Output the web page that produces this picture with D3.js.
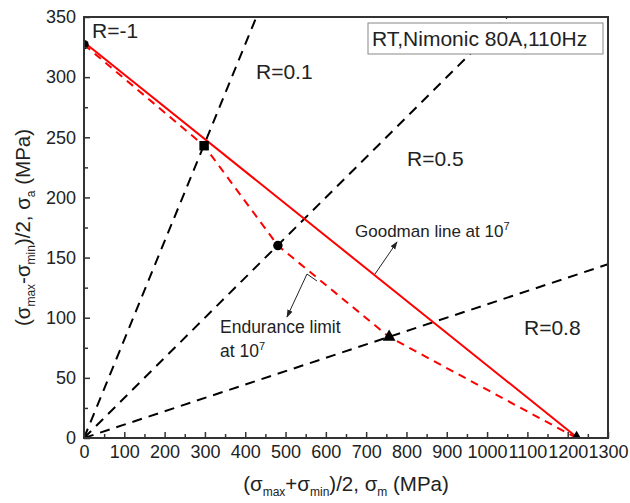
<!DOCTYPE html>
<html>
<head>
<meta charset="utf-8">
<script src="https://cdn.jsdelivr.net/npm/d3@7"></script>
<style>
  html, body { margin: 0; padding: 0; background: #fff; }
  svg { display: block; font-family: Arial, "Liberation Sans", sans-serif; }
</style>
</head>
<body>
<svg id="chart" width="630" height="503"></svg>
<script>
// ---- data ----
const xTicks = [0, 100, 200, 300, 400, 500, 600, 700, 800, 900, 1000, 1100, 1200, 1300];
const yTicks = [0, 50, 100, 150, 200, 250, 300, 350];
const rRatios = [0.1, 0.5, 0.8];                 // dashed load-ratio lines from origin
const rLabels = ["R=-1", "R=0.1", "R=0.5", "R=0.8"];
const goodmanSm = [0, 1225];
const goodmanSa = [329, 0];
const enduranceSm = [0, 298, 481, 757, 1222];
const enduranceSa = [327, 243, 160, 84, 0];
const markerSm = [0, 298, 481, 757, 1222, 0];
const markerSa = [327, 243, 160, 84, 0, 0];
const markerShape = ["circle", "square", "circle", "triangle", "triangle", "triangle"];
const legendText = "RT,Nimonic 80A,110Hz";

// ---- layout ----
const svg = d3.select("#chart");
const L = 84, R = 608, T = 17, B = 438;
const x = d3.scaleLinear().domain([0, 1300]).range([L, R]);
const y = d3.scaleLinear().domain([0, 350]).range([B, T]);

svg.append("defs").append("clipPath").attr("id", "clip")
  .append("rect").attr("x", L).attr("y", T).attr("width", R - L).attr("height", B - T);

const plot = svg.append("g").attr("clip-path", "url(#clip)");

// R lines: sigma_a = sigma_m * (1-R)/(1+R)
rRatios.forEach(r => {
  const k = (1 - r) / (1 + r);
  const smEnd = Math.min(1300, 350 / k);
  plot.append("line")
    .attr("x1", x(0)).attr("y1", y(0))
    .attr("x2", x(smEnd)).attr("y2", y(smEnd * k))
    .attr("stroke", "#000").attr("stroke-width", 2)
    .attr("stroke-dasharray", "10,7");
});

// Goodman line
const line = d3.line().x(d => x(d[0])).y(d => y(d[1]));
plot.append("path")
  .attr("d", line(goodmanSm.map((v, i) => [v, goodmanSa[i]])))
  .attr("fill", "none").attr("stroke", "#ff0000").attr("stroke-width", 2);

// Endurance limit (dashed)
plot.append("path")
  .attr("d", line(enduranceSm.map((v, i) => [v, enduranceSa[i]])))
  .attr("fill", "none").attr("stroke", "#ff0000").attr("stroke-width", 2)
  .attr("stroke-dasharray", "8,6");

// markers
const sym = { circle: d3.symbolCircle, square: d3.symbolSquare, triangle: d3.symbolTriangle };
markerSm.forEach((v, i) => {
  plot.append("path")
    .attr("d", d3.symbol().type(sym[markerShape[i]]).size(markerShape[i] === "square" ? 90 : 70)())
    .attr("transform", `translate(${x(v)},${y(markerSa[i])})`)
    .attr("fill", "#000");
});

// legend box
svg.append("rect").attr("x", 368).attr("y", 23).attr("width", 235).attr("height", 31)
  .attr("fill", "#fff").attr("stroke", "#888").attr("stroke-width", 1);
svg.append("text").attr("x", 372).attr("y", 46).attr("font-size", 21).attr("fill", "#222")
  .text(legendText);

// axes
const gx = svg.append("g").attr("transform", `translate(0,${B})`)
  .call(d3.axisBottom(x).tickValues(xTicks).tickSizeInner(-6).tickSizeOuter(0).tickPadding(7).tickFormat(d3.format("d")));
const gxm = svg.append("g").attr("transform", `translate(0,${B})`)
  .call(d3.axisBottom(x).tickValues(d3.range(50, 1300, 100)).tickSizeInner(-4).tickSizeOuter(0).tickFormat(""));
const gy = svg.append("g").attr("transform", `translate(${L},0)`)
  .call(d3.axisLeft(y).tickValues(yTicks).tickSizeInner(-6).tickSizeOuter(0).tickPadding(8).tickFormat(d3.format("d")));
const gym = svg.append("g").attr("transform", `translate(${L},0)`)
  .call(d3.axisLeft(y).tickValues(d3.range(25, 350, 50)).tickSizeInner(-4).tickSizeOuter(0).tickFormat(""));
[gx, gxm, gy, gym].forEach(g => {
  g.select(".domain").remove();
  g.selectAll("line").attr("stroke", "#333").attr("stroke-width", 1.5);
  g.selectAll("text").attr("font-size", 18).attr("fill", "#222")
    .attr("font-family", "Arial, 'Liberation Sans', sans-serif");
});

// frame
svg.append("rect").attr("x", L).attr("y", T).attr("width", R - L).attr("height", B - T)
  .attr("fill", "none").attr("stroke", "#333").attr("stroke-width", 2);

// R labels
const rPos = [[92, 38], [256, 79], [407, 166], [524, 335]];
rLabels.forEach((t, i) => {
  svg.append("text").attr("x", rPos[i][0]).attr("y", rPos[i][1])
    .attr("font-size", 21).attr("fill", "#222").text(t);
});

// annotations
svg.append("defs").append("marker").attr("id", "arr")
  .attr("viewBox", "0 0 10 10").attr("refX", 9).attr("refY", 5)
  .attr("markerWidth", 8).attr("markerHeight", 8).attr("orient", "auto-start-reverse")
  .append("path").attr("d", "M0,1.5 L10,5 L0,8.5 Z").attr("fill", "#222");

const gm = svg.append("text").attr("x", 355).attr("y", 237).attr("font-size", 17).attr("fill", "#222");
gm.append("tspan").text("Goodman line at 10");
gm.append("tspan").attr("dy", -7).attr("font-size", 11).text("7");
svg.append("line").attr("x1", 375).attr("y1", 274).attr("x2", 397).attr("y2", 242)
  .attr("stroke", "#222").attr("stroke-width", 1).attr("marker-end", "url(#arr)");

svg.append("text").attr("x", 220).attr("y", 333).attr("font-size", 17.5).attr("fill", "#222")
  .text("Endurance limit");
const en2 = svg.append("text").attr("x", 220).attr("y", 357).attr("font-size", 17.5).attr("fill", "#222");
en2.append("tspan").text("at 10");
en2.append("tspan").attr("dy", -7).attr("font-size", 11).text("7");
svg.append("polyline").attr("points", "317,281 307,274 287,317")
  .attr("fill", "none").attr("stroke", "#222").attr("stroke-width", 1).attr("marker-end", "url(#arr)");

// axis titles
function title(sel, parts) {
  parts.forEach(([t, sub]) => {
    sel.append("tspan").attr("font-size", sub ? 12 : null).attr("dy", sub === 1 ? 5 : sub === -1 ? -5 : 0).text(t);
  });
}
const xt = svg.append("text").attr("x", (L + R) / 2).attr("y", 491)
  .attr("text-anchor", "middle").attr("font-size", 20.5).attr("fill", "#222");
xt.append("tspan").text("(σ");
xt.append("tspan").attr("font-size", 12).attr("dy", 5).text("max");
xt.append("tspan").attr("dy", -5).text("+σ");
xt.append("tspan").attr("font-size", 12).attr("dy", 5).text("min");
xt.append("tspan").attr("dy", -5).text(")/2, σ");
xt.append("tspan").attr("font-size", 12).attr("dy", 5).text("m");
xt.append("tspan").attr("dy", -5).text(" (MPa)");

const yt = svg.append("text").attr("transform", `translate(30,${(T + B) / 2}) rotate(-90)`)
  .attr("text-anchor", "middle").attr("font-size", 20.5).attr("fill", "#222");
yt.append("tspan").text("(σ");
yt.append("tspan").attr("font-size", 12).attr("dy", 5).text("max");
yt.append("tspan").attr("dy", -5).text("-σ");
yt.append("tspan").attr("font-size", 12).attr("dy", 5).text("min");
yt.append("tspan").attr("dy", -5).text(")/2, σ");
yt.append("tspan").attr("font-size", 12).attr("dy", 5).text("a");
yt.append("tspan").attr("dy", -5).text(" (MPa)");
</script>
</body>
</html>
